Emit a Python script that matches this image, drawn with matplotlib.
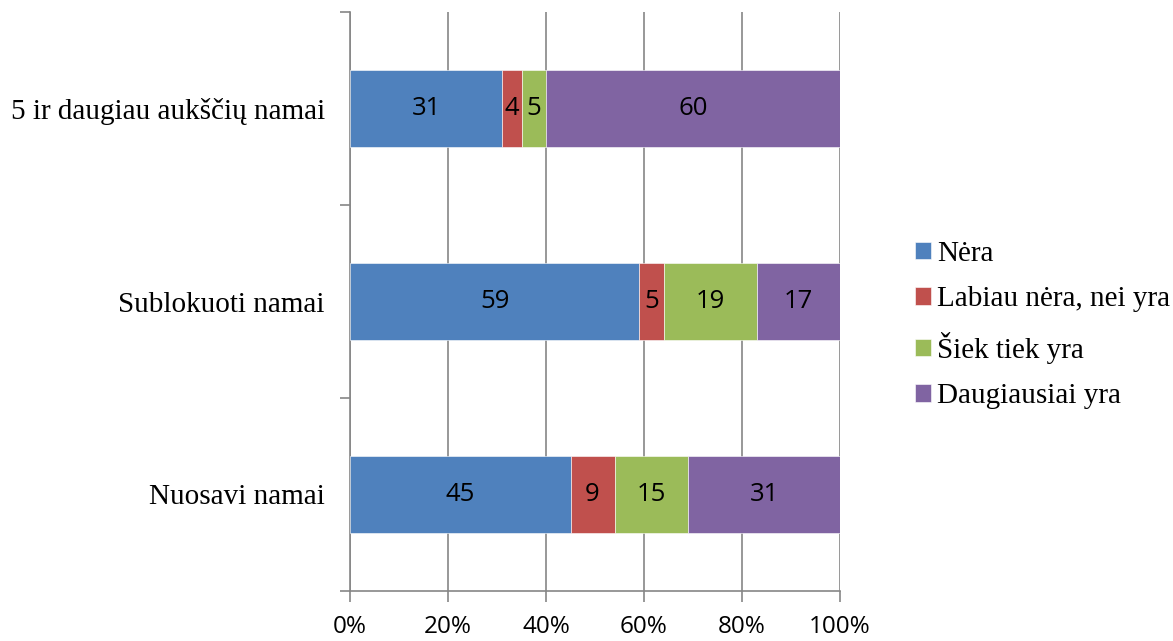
import matplotlib.pyplot as plt
from matplotlib.ticker import FixedLocator, PercentFormatter

# survey answers per housing type, shares in percent
categories = ["Nuosavi namai", "Sublokuoti namai", "5 ir daugiau aukščių namai"]
series_names = ["Nėra", "Labiau nėra, nei yra", "Šiek tiek yra", "Daugiausiai yra"]
nera = [45, 59, 31]
labiau_nera = [9, 5, 4]
siek_tiek = [15, 19, 5]
daugiausiai = [31, 17, 60]
colors = ["#4F81BD", "#C0504D", "#9BBB59", "#8064A2"]

serif = "Liberation Serif"
sans = "Open Sans"

fig = plt.figure(figsize=(11.73, 6.41), dpi=100)
ax = fig.add_axes([350 / 1173, 1 - 591 / 641, 490 / 1173, 579 / 641])

ypos = list(range(len(categories)))
left = [0] * len(categories)
for name, vals, col in zip(series_names, [nera, labiau_nera, siek_tiek, daugiausiai], colors):
    bars = ax.barh(ypos, vals, left=left, height=0.4, color=col, label=name,
                   edgecolor="white", linewidth=0.4, zorder=3)
    ax.bar_label(bars, labels=[str(v) for v in vals], label_type="center",
                 fontsize=18.5, family=sans, color="black")
    left = [a + b for a, b in zip(left, vals)]

ax.set_xlim(0, 100)
ax.set_ylim(-0.5, len(categories) - 0.5)
ax.set_xticks(range(0, 101, 20))
ax.xaxis.set_major_formatter(PercentFormatter(decimals=0))
ax.grid(axis="x", color="#868686", linewidth=1.2, zorder=0)

ax.set_yticks(ypos)
ax.set_yticklabels(categories, family=serif, fontsize=21)
ax.yaxis.set_minor_locator(FixedLocator([-0.5, 0.5, 1.5, 2.5]))
ax.tick_params(axis="y", which="major", length=0, pad=18)
ax.tick_params(axis="y", which="minor", length=7, width=1.2, color="#868686")
ax.tick_params(axis="x", length=8, width=1.2, color="#868686", pad=9,
               labelsize=17.5)
for lab in ax.get_xticklabels():
    lab.set_family(sans)

for side in ["top", "right"]:
    ax.spines[side].set_visible(False)
for side in ["left", "bottom"]:
    ax.spines[side].set_color("#868686")
    ax.spines[side].set_linewidth(1.2)

fig.legend(loc="center left", bbox_to_anchor=(915 / 1173, 1 - 325 / 641),
           frameon=False, prop={"family": serif, "size": 21},
           handlelength=0.55, handleheight=0.55, handletextpad=0.2,
           labelspacing=0.67, borderaxespad=0, borderpad=0)

fig.savefig("out.png", dpi=100)
